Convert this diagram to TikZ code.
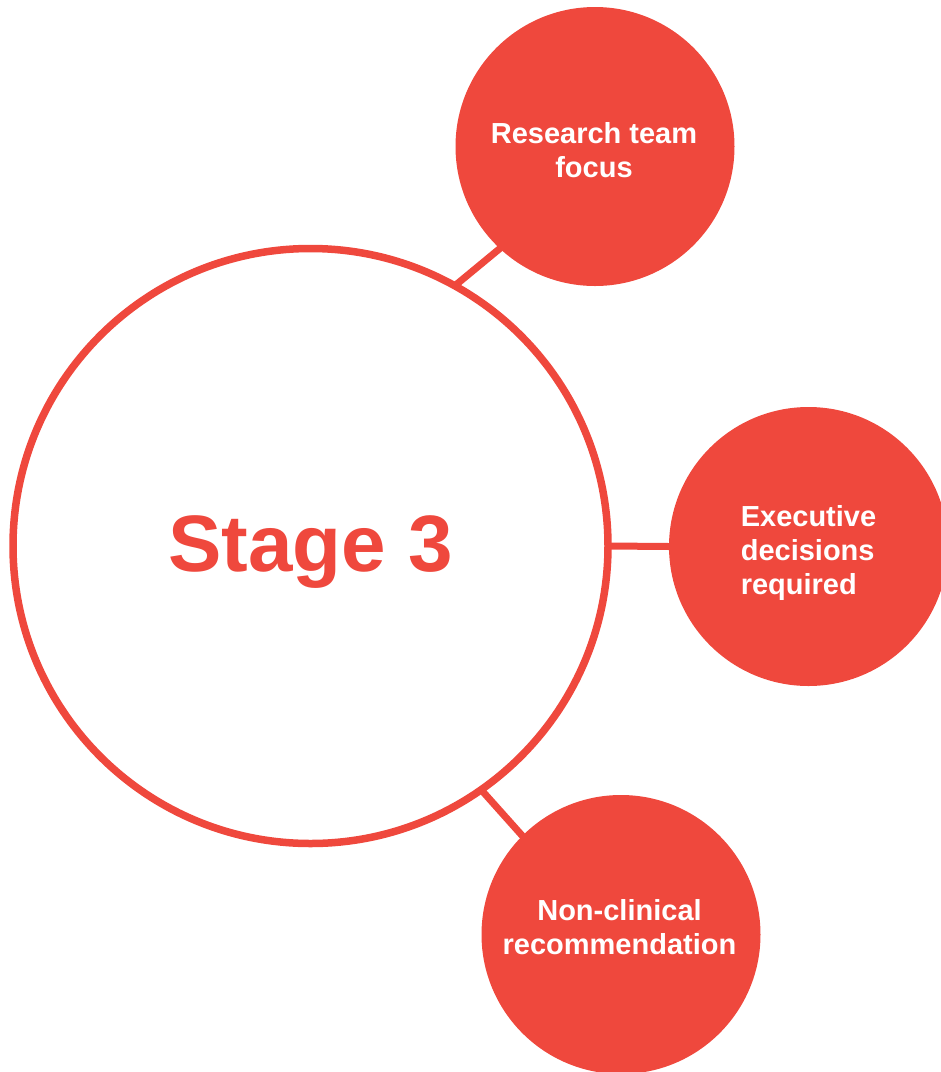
\documentclass[tikz,border=0pt]{standalone}
\usepackage{fontspec}
\setmainfont{Liberation Sans}
\definecolor{stagered}{RGB}{239,72,61}
\begin{document}
\begin{tikzpicture}[x=1pt,y=-1pt,
  bigcircle/.style={circle,draw=stagered,line width=7.5pt,fill=white,
    minimum size=595pt,inner sep=0pt,outer sep=0pt},
  bigtext/.style={inner sep=0pt,text=stagered,
    font=\fontsize{80}{96}\selectfont\bfseries},
  smallcircle/.style={circle,fill=stagered,minimum size=279pt,inner sep=0pt,
    outer sep=0pt},
  smalltext/.style={inner sep=0pt,text=white,
    font=\fontsize{29}{34}\selectfont\bfseries},
  link/.style={draw=stagered,line width=7pt,shorten <=-2pt,shorten >=-3pt}]
\useasboundingbox (0,0) rectangle (941,1072);
\node[bigcircle] (big) at (310.5,546) {};
\node[smallcircle] (r1) at (595,146.5) {};
\node[smallcircle] (r2) at (808.5,546.5) {};
\node[smallcircle] (r3) at (621,934.5) {};
\node[bigtext] (bigt) at (310.5,552) {Stage 3};
\node[smalltext,align=center] (r1t) at (594,149.9) {Research team\\focus};
\node[smalltext,align=left] (r2t) at (808.5,553) {Executive\\decisions\\required};
\node[smalltext,align=center] (r3t) at (619.5,927.5) {Non-clinical\\recommendation};
\draw[link] (big.61) -- (r1.227.5);
\draw[link] (big.0) -- (r2.180);
\draw[link] (big.-55.5) -- (r3.135);
\end{tikzpicture}
\end{document}
